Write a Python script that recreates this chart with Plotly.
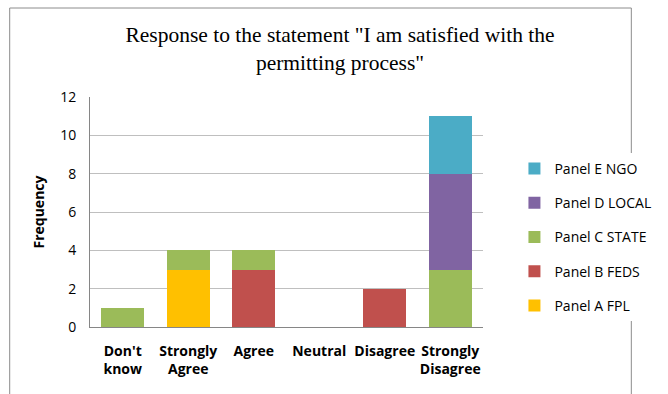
import plotly.graph_objects as go

categories = ["Don't<br>know", "Strongly<br>Agree", "Agree", "Neutral", "Disagree", "Strongly<br>Disagree"]
panel_a_fpl = [0, 3, 0, 0, 0, 0]
panel_b_feds = [0, 0, 3, 0, 2, 0]
panel_c_state = [1, 1, 1, 0, 0, 3]
panel_d_local = [0, 0, 0, 0, 0, 5]
panel_e_ngo = [0, 0, 0, 0, 0, 3]

series = [
    ("Panel A FPL", panel_a_fpl, "#FFC000"),
    ("Panel B FEDS", panel_b_feds, "#C0504D"),
    ("Panel C STATE", panel_c_state, "#9BBB59"),
    ("Panel D LOCAL", panel_d_local, "#8064A2"),
    ("Panel E NGO", panel_e_ngo, "#4BACC6"),
]

fig = go.Figure()
for i, (name, vals, color) in enumerate(series):
    fig.add_trace(go.Bar(x=categories, y=vals, name=name, marker_color=color,
                         marker_line_width=0, legendgroup=name,
                         legendrank=1000 - i))

W, H = 668, 394
L, R, T, B = 90, 162, 97, 67
pw, ph = W - L - R, H - T - B

def px_x(p):
    return (p - L) / pw

def px_y(p):
    return (H - B - p) / ph

fig.update_layout(
    width=W, height=H,
    margin=dict(l=L, r=R, t=T, b=B),
    barmode="stack", bargap=0.35,
    paper_bgcolor="white", plot_bgcolor="white",
    font=dict(family="Open Sans", size=14, color="#000000"),
    title=dict(text='Response to the statement "I am satisfied with the<br>permitting process"',
               font=dict(family="Liberation Serif", size=21.5, color="#000000"),
               x=0.509, xanchor="center", y=1 - 42 / H, yanchor="top"),
    legend=dict(x=1.08, xanchor="left", y=px_y(237), yanchor="middle",
                traceorder="grouped", tracegroupgap=13,
                font=dict(family="Open Sans", size=14, color="#000000")),
    showlegend=True,
    shapes=[dict(type="rect", xref="paper", yref="paper",
                 x0=px_x(5), x1=px_x(663), y0=px_y(400), y1=px_y(8),
                 line=dict(color="#8C8C8C", width=1), fillcolor="rgba(0,0,0,0)",
                 layer="below")],
)

fig.update_xaxes(showline=True, linecolor="#868686", linewidth=1,
                 tickfont=dict(family="Open Sans", size=14, color="#000000", weight="bold"),
                 ticklabelstandoff=11, fixedrange=True)
fig.update_yaxes(range=[0, 12], dtick=2, showline=True, linecolor="#868686", linewidth=1,
                 showgrid=True, gridcolor="#BFBFBF", gridwidth=1, zeroline=False,
                 tickfont=dict(family="Open Sans", size=14, color="#000000"),
                 ticklabelstandoff=10,
                 title=dict(text="Frequency", standoff=12,
                            font=dict(family="Open Sans", size=14, color="#000000", weight="bold")))

fig.write_html("out.html")
